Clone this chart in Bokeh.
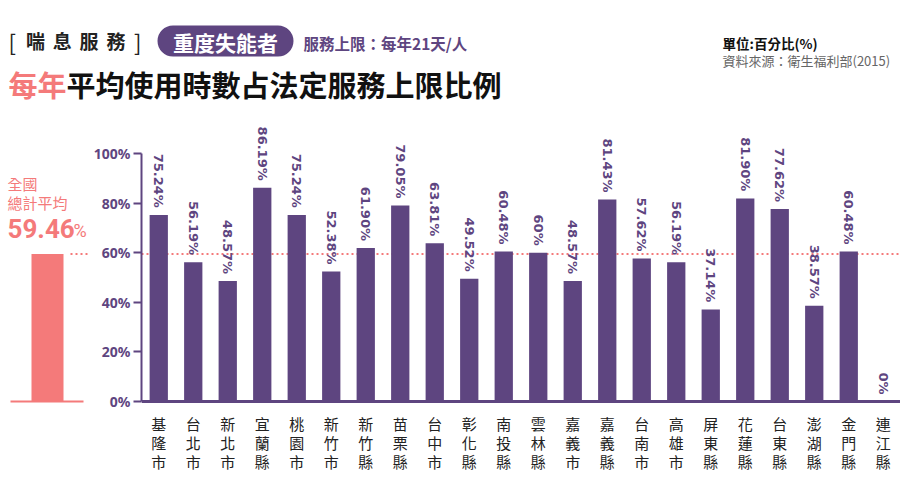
import math
from bokeh.plotting import figure
from bokeh.layouts import column, row
from bokeh.models import Range1d, FactorRange, Span, BoxAnnotation, ColumnDataSource, FixedTicker
from bokeh.core.properties import value
from bokeh.embed import file_html
from bokeh.resources import INLINE

# ---------------- data ----------------
counties = ["基隆市", "台北市", "新北市", "宜蘭縣", "桃園市", "新竹市", "新竹縣", "苗栗縣",
            "台中市", "彰化縣", "南投縣", "雲林縣", "嘉義市", "嘉義縣", "台南市", "高雄市",
            "屏東縣", "花蓮縣", "台東縣", "澎湖縣", "金門縣", "連江縣"]
values = [75.24, 56.19, 48.57, 86.19, 75.24, 52.38, 61.90, 79.05, 63.81, 49.52, 60.48,
          60.0, 48.57, 81.43, 57.62, 56.19, 37.14, 81.90, 77.62, 38.57, 60.48, 0.0]
value_labels = ["75.24%", "56.19%", "48.57%", "86.19%", "75.24%", "52.38%", "61.90%", "79.05%",
                "63.81%", "49.52%", "60.48%", "60%", "48.57%", "81.43%", "57.62%", "56.19%",
                "37.14%", "81.90%", "77.62%", "38.57%", "60.48%", "0%"]
national_avg = 59.46
national_label = "59.46"
y_ticks = [0, 20, 40, 60, 80, 100]
y_tick_labels = ["0%", "20%", "40%", "60%", "80%", "100%"]
header_chars = ["喘", "息", "服", "務"]

PURPLE = "#5e4580"
SALMON = "#f47a7a"
CJK = "Noto Sans CJK TC"

PX_PER_UNIT = 2.48          # vertical pixels per percentage point
Y_END = 113.3
Y_START = -38.3
TOTAL_W = 900
HEAD_H = 118
ROW_H = 378
LEFT_W = 90

# ---------------- header ----------------
head = figure(width=TOTAL_W, height=HEAD_H, x_range=Range1d(0, TOTAL_W), y_range=Range1d(HEAD_H, 0),
              output_backend="svg", toolbar_location=None, min_border=0,
              x_axis_type=None, y_axis_type=None)
head.outline_line_color = None
head.grid.visible = False

head.text(x=[8], y=[40], text=["["], text_font=value(CJK), text_font_size="22px",
          text_color="#222222", text_baseline="middle", text_align="left")
head.text(x=[35 + 26.8 * i for i in range(len(header_chars))], y=[40] * len(header_chars),
          text=header_chars, text_font=value(CJK), text_font_size="19px", text_font_style="bold",
          text_color="#222222", text_baseline="middle", text_align="center")
head.text(x=[141], y=[40], text=["]"], text_font=value(CJK), text_font_size="22px",
          text_color="#222222", text_baseline="middle", text_align="right")

head.add_layout(BoxAnnotation(left=157, right=293, top=25, bottom=56, border_radius=16,
                              fill_color=PURPLE, fill_alpha=1, line_color=None, level="underlay"))
head.text(x=[225], y=[41], text=["重度失能者"], text_font=value(CJK), text_font_size="21px",
          text_font_style="bold", text_color="white", text_baseline="middle", text_align="center")
head.text(x=[303], y=[42], text=["服務上限：每年21天/人"], text_font=value(CJK), text_font_size="15.5px",
          text_font_style="bold", text_color=PURPLE, text_baseline="middle", text_align="left")
head.text(x=[8], y=[83], text=["每年"], text_font=value(CJK), text_font_size="29px",
          text_font_style="bold", text_color=SALMON, text_baseline="middle", text_align="left")
head.text(x=[66], y=[83], text=["平均使用時數占法定服務上限比例"], text_font=value(CJK), text_font_size="29px",
          text_font_style="bold", text_color="#111111", text_baseline="middle", text_align="left")
head.text(x=[722], y=[42], text=["單位:百分比(%)"], text_font=value(CJK), text_font_size="13.5px",
          text_font_style="bold", text_color="#111111", text_baseline="middle", text_align="left")
head.text(x=[722], y=[60], text=["資料來源：衛生福利部(2015)"], text_font=value(CJK), text_font_size="13px",
          text_color="#666666", text_baseline="middle", text_align="left")

# ---------------- left panel (national average) ----------------
left = figure(width=LEFT_W, height=ROW_H, x_range=Range1d(0, LEFT_W), y_range=Range1d(Y_START, Y_END),
              output_backend="svg", toolbar_location=None, min_border_left=0, min_border_right=0,
              min_border_top=2, min_border_bottom=0, x_axis_type=None, y_axis_type=None)
left.outline_line_color = None
left.grid.visible = False
left.vbar(x=[47], top=[national_avg], width=32, bottom=0, fill_color=SALMON, line_color=None)
left.segment(x0=[10], x1=[83], y0=[0], y1=[0], line_color=SALMON, line_width=2)
left.segment(x0=[70], x1=[LEFT_W], y0=[national_avg], y1=[national_avg], line_color=SALMON,
             line_width=2, line_dash="2 3")
left.text(x=[7], y=[87.9], text=["全國"], text_font=value(CJK), text_font_size="15px",
          text_color=SALMON, text_baseline="middle", text_align="left")
left.text(x=[7], y=[80.2], text=["總計平均"], text_font=value(CJK), text_font_size="15px",
          text_color=SALMON, text_baseline="middle", text_align="left")
left.text(x=[7], y=[69.6], text=[national_label], text_font=value("Roboto"), text_font_size="26px",
          text_font_style="bold", text_color=SALMON, text_baseline="middle", text_align="left")
left.text(x=[73], y=[69.0], text=["%"], text_font=value("Roboto"), text_font_size="18px",
          text_color=SALMON, text_baseline="middle", text_align="left")

# ---------------- main chart ----------------
main = figure(width=TOTAL_W - LEFT_W, height=ROW_H, x_range=FactorRange(*counties),
              y_range=Range1d(Y_START, Y_END), output_backend="svg", toolbar_location=None,
              x_axis_location=None,
              min_border_left=51, min_border_right=0, min_border_top=2, min_border_bottom=0)
main.outline_line_color = None
main.grid.visible = False

main.add_layout(Span(location=national_avg, dimension="width", line_color=SALMON, line_width=2,
                     line_dash="2 3", level="underlay"))

src = ColumnDataSource(dict(county=counties, v=values, lab=value_labels,
                            ly=[v + 7 / PX_PER_UNIT for v in values],
                            r0=[-22 / PX_PER_UNIT] * len(counties),
                            r1=[-41 / PX_PER_UNIT] * len(counties),
                            r2=[-59.5 / PX_PER_UNIT] * len(counties),
                            c0=[c[0] for c in counties], c1=[c[1] for c in counties],
                            c2=[c[2] for c in counties]))
main.vbar(x="county", top="v", width=0.53, source=src, fill_color=PURPLE, line_color=None)
main.text(x="county", y="ly", text="lab", source=src, angle=-math.pi / 2,
          text_font=value("DejaVu Sans"), text_font_size="13px", text_font_style="bold",
          text_color=PURPLE, text_align="right", text_baseline="middle")

# baseline (x axis line)
main.add_layout(Span(location=0, dimension="width", line_color=PURPLE, line_width=3))

# vertical (stacked) category labels
for ycol, tcol in (("r0", "c0"), ("r1", "c1"), ("r2", "c2")):
    main.text(x="county", y=ycol, text=tcol, source=src, text_font=value(CJK),
              text_font_size="15px", text_color="#222222", text_align="center",
              text_baseline="middle")

ya = main.yaxis[0]
ya.ticker = FixedTicker(ticks=y_ticks)
ya.major_label_overrides = {t: l for t, l in zip(y_ticks, y_tick_labels)}
ya.bounds = (0, 100)
ya.axis_line_color = PURPLE
ya.axis_line_width = 2
ya.major_tick_line_color = PURPLE
ya.major_tick_line_width = 2
ya.major_tick_out = 8
ya.major_tick_in = 0
ya.minor_tick_line_color = None
ya.major_label_text_color = PURPLE
ya.major_label_text_font = "Noto Sans"
ya.major_label_text_font_style = "bold"
ya.major_label_text_font_size = "14px"
ya.major_label_standoff = 3

layout = column(head, row(left, main, spacing=0), spacing=0)
open("out.html", "w").write(file_html(layout, INLINE))
